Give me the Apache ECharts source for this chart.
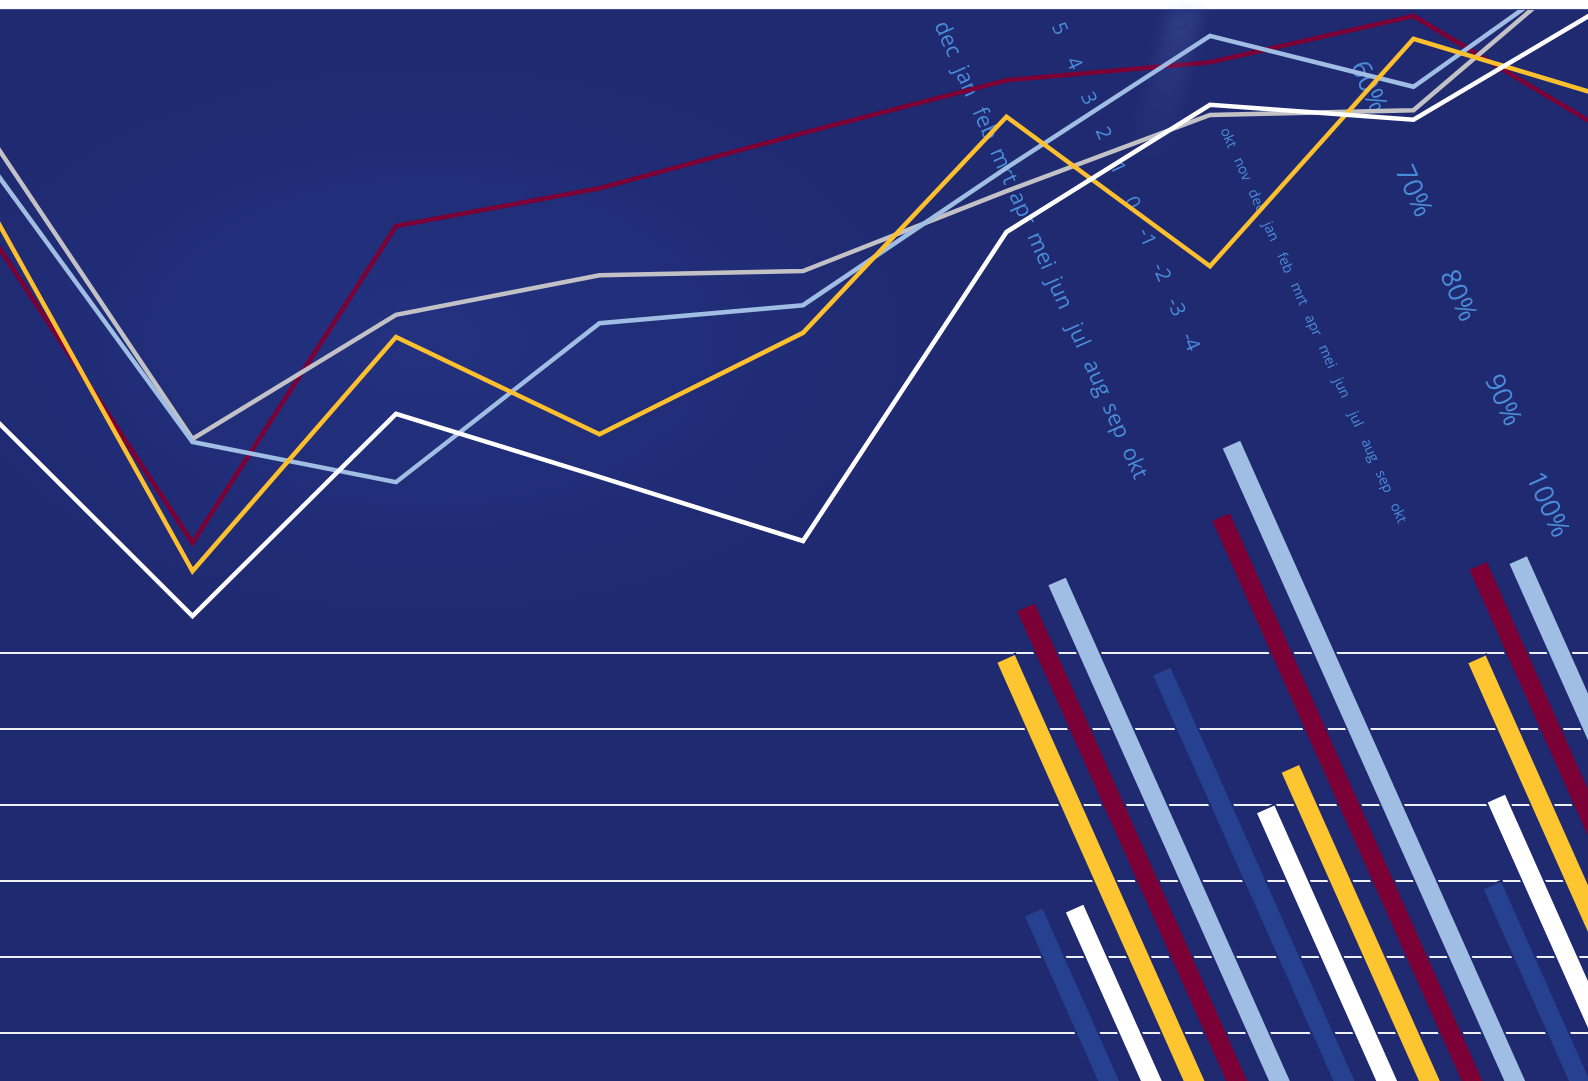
<!DOCTYPE html>
<html>
<head>
<meta charset="utf-8">
<script src="https://cdn.jsdelivr.net/npm/echarts@6/dist/echarts.min.js"></script>
<style>
html,body{margin:0;padding:0;background:#ffffff;width:1588px;height:1081px;overflow:hidden}
#chart{position:absolute;left:0;top:9px;width:1588px;height:1072px;
  background:radial-gradient(ellipse 520px 300px at 430px 330px,#233180 0%,#1f2a71 100%);
  border-top:1px solid #3d4f9c;box-sizing:border-box}
#streak{position:absolute;left:1150px;top:10px;width:34px;height:150px;pointer-events:none;
  background:linear-gradient(180deg,rgba(120,150,225,0.16) 0%,rgba(120,150,225,0.0) 100%);
  transform:skewX(-14deg);filter:blur(6px)}
</style>
</head>
<body>
<div id="chart"></div>
<div id="streak"></div>
<script>
// ---------- line chart data ----------
const periods = ['1998','1999','2000','2001','2002','2003','2004','2005','2006'];
const crimsonLine   = [63.0, 11.2, 64.0, 70.3, 79.5, 88.3, 91.3, 99.0, 78.7];
const greyLine      = [79.2, 28.5, 49.2, 55.8, 56.5, 69.8, 82.5, 83.3, 112.2];
const lightBlueLine = [74.5, 28.0, 21.3, 47.8, 50.8, 73.7, 95.7, 87.2, 111.3];
const yellowLine    = [67.3, 6.5, 45.5, 29.3, 46.2, 82.2, 57.3, 95.2, 85.0];
const whiteLine     = [32.8, -1.0, 32.7, 22.2, 11.5, 63.0, 84.2, 81.7, 101.8];

// ---------- slanted bar chart data ----------
const barGroups = ['2004','2005','2006'];
const darkBlueBars  = [44.7, 61.5, 28.5];
const whiteBars     = [43.4, 44.7, 36.3];
const yellowBars    = [69.0, 47.4, 49.8];
const crimsonBars   = [72.9, 73.2, 58.3];
const lightBlueBars = [74.0, 79.4, 57.2];

// ---------- tick labels ----------
const monthsLarge  = ['dec','jan','feb','mrt','apr','mei','jun','jul','aug','sep','okt'];
const scaleTicks   = ['5','4','3','2','1','0','-1','-2','-3','-4'];
const monthsSmall  = ['okt','nov','dec','jan','feb','mrt','apr','mei','jun','jul','aug','sep','okt'];
const percentTicks = ['60%','70%','80%','90%','100%'];

// ---------- styling / layout ----------
const NAVY = '#1f2a71';
const TEXT = '#4b8cd9';
const THETA = 24 * Math.PI / 180;
const PIVOT = [1250, 791];
const BAR_STEP = 39, BAR_W = 19;

function lineSeries(name, data, color, z) {
  return {type: 'line', name, data, xAxisIndex: 0, yAxisIndex: 0, symbol: 'none', smooth: false,
    lineStyle: {color, width: 4.5, join: 'miter'}, z};
}
function barSeries(name, data, color, k) {
  return {
    type: 'custom', name, xAxisIndex: 2, yAxisIndex: 2, z: 3,
    data: data.map((v, i) => [i, v]), encode: {x: 0, y: 1},
    renderItem(params, api) {
      const top = api.coord([api.value(0), api.value(1)]);
      const base = api.coord([api.value(0), 0]);
      const cx = top[0] + (k - 2) * BAR_STEP;
      return {
        type: 'rect',
        shape: {x: cx - BAR_W / 2 - 1, y: top[1] - 1, width: BAR_W + 2, height: base[1] - top[1] + 1},
        originX: PIVOT[0], originY: PIVOT[1], rotation: THETA,
        style: {fill: color, stroke: NAVY, lineWidth: 2}
      };
    }
  };
}
function alongLine(labels, start, end, size) {
  const n = labels.length;
  return labels.map((t, i) => {
    const f = n > 1 ? i / (n - 1) : 0;
    return {
      type: 'text', z: 1,
      x: start[0] + (end[0] - start[0]) * f,
      y: start[1] + (end[1] - start[1]) * f,
      rotation: THETA - Math.PI / 2,
      style: {text: t, fill: TEXT, fontSize: size, fontFamily: '"Open Sans", sans-serif',
              align: 'center', verticalAlign: 'middle'}
    };
  });
}

const chart = echarts.init(document.getElementById('chart'), null, {renderer: 'canvas'});
chart.setOption({
  animation: false,
  backgroundColor: 'transparent',
  grid: [
    {left: -11, top: 0, width: 1628, height: 660, outerBoundsMode: 'none', containLabel: false},
    {left: 0, right: 0, top: 643, height: 380, outerBoundsMode: 'none', containLabel: false},
    {left: 1085, top: 52, width: 430, height: 1000, outerBoundsMode: 'none', containLabel: false}
  ],
  xAxis: [
    {gridIndex: 0, type: 'category', data: periods, boundaryGap: false, show: false},
    {gridIndex: 1, type: 'value', min: 0, max: 1, show: false},
    {gridIndex: 2, type: 'category', data: barGroups, boundaryGap: false, show: false}
  ],
  yAxis: [
    {gridIndex: 0, type: 'value', min: -10, max: 100, show: false},
    {gridIndex: 1, type: 'value', min: 0, max: 5, interval: 1,
      axisLine: {show: false}, axisTick: {show: false}, axisLabel: {show: false},
      splitLine: {show: true, lineStyle: {color: '#eef1f8', width: 2}}},
    {gridIndex: 2, type: 'value', min: 20, max: 120, show: false}
  ],
  graphic: [].concat(
    alongLine(monthsLarge, [947, 29], [1134, 453], 22),
    alongLine(scaleTicks, [1059, 19], [1190, 332], 20),
    alongLine(monthsSmall, [1228, 128], [1398, 503], 14),
    alongLine(percentTicks, [1368, 77], [1547, 495], 27)
  ),
  series: [
    lineSeries('crimson', crimsonLine, '#7a0036', 2),
    lineSeries('grey', greyLine, '#c2c2c6', 3),
    lineSeries('lightblue', lightBlueLine, '#a0bde3', 4),
    lineSeries('yellow', yellowLine, '#fcc02e', 5),
    lineSeries('white', whiteLine, '#ffffff', 6),
    barSeries('darkblue', darkBlueBars, '#26418f', 0),
    barSeries('white', whiteBars, '#ffffff', 1),
    barSeries('yellow', yellowBars, '#fdc530', 2),
    barSeries('crimson', crimsonBars, '#7a0036', 3),
    barSeries('lightblue', lightBlueBars, '#a0bde3', 4)
  ]
});
</script>
</body>
</html>
